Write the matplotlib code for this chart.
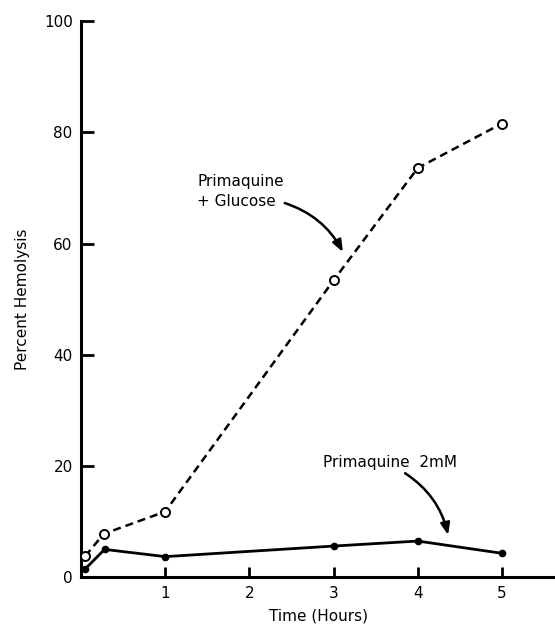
import matplotlib
matplotlib.use("Agg")
import matplotlib.pyplot as plt

# ─── Data ─────────────────────────────────────────────────────────────────────
time_glucose = [0.05, 0.27, 1.0, 3.0, 4.0, 5.0]
hemo_glucose = [3.8, 7.8, 11.8, 53.4, 73.6, 81.6]

time_prim = [0.05, 0.28, 1.0, 3.0, 4.0, 5.0]
hemo_prim = [1.5, 5.0, 3.7, 5.6, 6.5, 4.3]

x_ticks = [1, 2, 3, 4, 5]
y_ticks = [0, 20, 40, 60, 80, 100]

FS = 11

fig = plt.figure(figsize=(5.55, 6.24), dpi=100)
ax = fig.add_axes([0.146, 0.075, 0.854, 0.891])

ax.plot(time_glucose, hemo_glucose, color="black", lw=1.8,
        linestyle=(0, (3.2, 2.0)), marker="o", markersize=6.5,
        markerfacecolor="white", markeredgecolor="black", markeredgewidth=1.4,
        zorder=3)
ax.plot(time_prim, hemo_prim, color="black", lw=2.0, marker="o",
        markersize=4.5, markerfacecolor="black", zorder=3)

ax.set_xlim(0, 5.63)
ax.set_ylim(0, 100)
ax.set_xticks(x_ticks)
ax.set_yticks(y_ticks)
ax.tick_params(axis="both", direction="in", width=2, labelsize=FS)
ax.tick_params(axis="y", length=9, pad=6)
ax.tick_params(axis="x", length=7, pad=6)
for s in ["top", "right"]:
    ax.spines[s].set_visible(False)
for s in ["left", "bottom"]:
    ax.spines[s].set_linewidth(2.2)

ax.set_xlabel("Time (Hours)", fontsize=FS, labelpad=6)
ax.set_ylabel("Percent Hemolysis", fontsize=FS, labelpad=10)

# annotations
ax.text(1.38, 69.4, "Primaquine\n+ Glucose", fontsize=FS, ha="left",
        va="center", linespacing=1.4)
ax.annotate("", xy=(3.11, 58.5), xytext=(2.42, 67.3),
            arrowprops=dict(arrowstyle="-|>,head_length=0.5,head_width=0.2",
                            color="black", lw=1.8,
                            connectionstyle="arc3,rad=-0.2",
                            mutation_scale=14, shrinkA=0, shrinkB=0))

ax.text(2.87, 20.7, "Primaquine  2mM", fontsize=FS, ha="left", va="center")
ax.annotate("", xy=(4.36, 7.6), xytext=(3.85, 18.7),
            arrowprops=dict(arrowstyle="-|>,head_length=0.5,head_width=0.2",
                            color="black", lw=1.8,
                            connectionstyle="arc3,rad=-0.2",
                            mutation_scale=14, shrinkA=0, shrinkB=0))

fig.savefig("out.png", dpi=100)
